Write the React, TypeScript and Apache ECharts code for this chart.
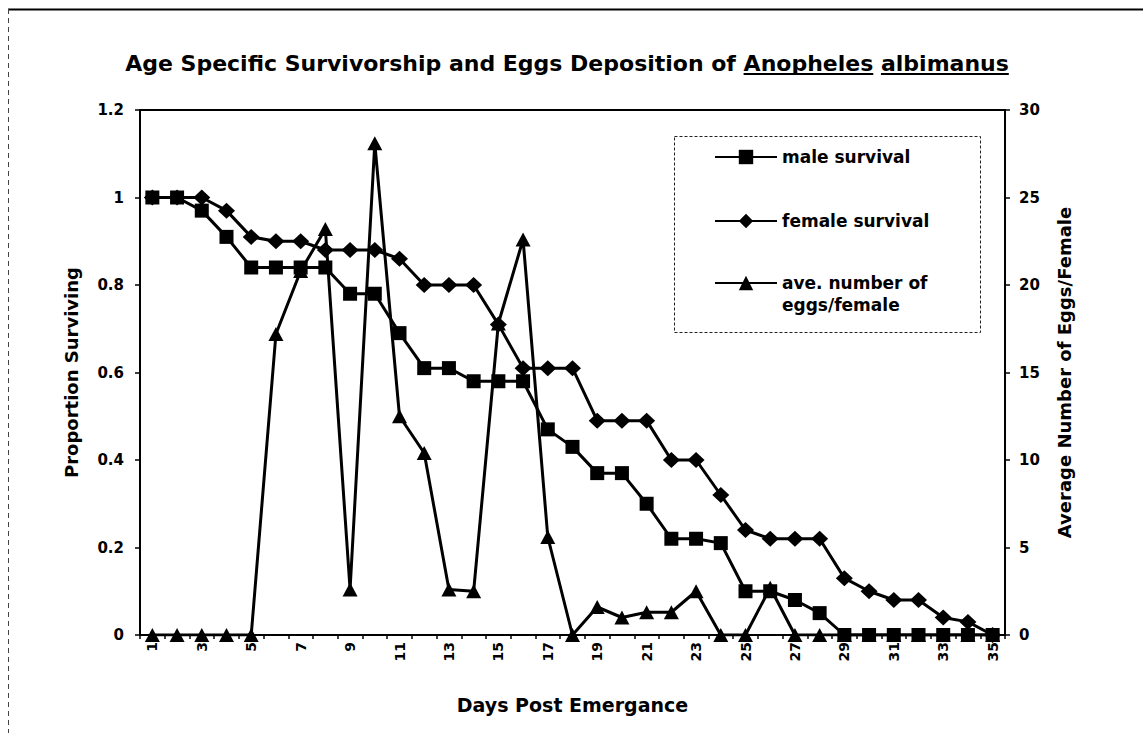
import React, { useEffect, useRef } from "react";
import * as echarts from "echarts";

const days = ["1","2","3","4","5","6","7","8","9","10","11","12","13","14","15","16","17","18","19","20","21","22","23","24","25","26","27","28","29","30","31","32","33","34","35"];
const maleSurvival = [1,1,0.97,0.91,0.84,0.84,0.84,0.84,0.78,0.78,0.69,0.61,0.61,0.58,0.58,0.58,0.47,0.43,0.37,0.37,0.30,0.22,0.22,0.21,0.10,0.10,0.08,0.05,0,0,0,0,0,0,0];
const femaleSurvival = [1,1,1,0.97,0.91,0.90,0.90,0.88,0.88,0.88,0.86,0.80,0.80,0.80,0.71,0.61,0.61,0.61,0.49,0.49,0.49,0.40,0.40,0.32,0.24,0.22,0.22,0.22,0.13,0.10,0.08,0.08,0.04,0.03,0];
const eggsPerFemale = [0,0,0,0,0,17.2,20.8,23.2,2.6,28.1,12.5,10.4,2.6,2.5,17.8,22.6,5.6,0,1.6,1.0,1.3,1.3,2.5,0,0,2.7,0,0,0,0,0,0,0,0,0];
const leftTicks = { min: 0, max: 1.2, interval: 0.2 };
const rightTicks = { min: 0, max: 30, interval: 5 };

const titlePrefix = "Age Specific Survivorship and Eggs Deposition of ";
const genus = "Anopheles";
const species = "albimanus";
const seriesNames = ["male survival", "female survival", "ave. number of eggs/female"];

const FONT = "'DejaVu Sans', 'Liberation Sans', Arial, sans-serif";

function measure(text: string, font: string): number {
  const c = document.createElement("canvas");
  const ctx = c.getContext("2d");
  if (!ctx) return text.length * 10;
  ctx.font = font;
  return ctx.measureText(text).width;
}

export default function App() {
  const ref = useRef<HTMLDivElement>(null);
  useEffect(() => {
    if (!ref.current) return;
    const chart = echarts.init(ref.current, undefined, { renderer: "svg" });

    const titleSize = 22;
    const titleFont = `bold ${titleSize}px ${FONT}`;
    const fullTitle = titlePrefix + genus + " " + species;
    const W = measure(fullTitle, titleFont);
    const cx = 567;
    const titleY = 63;
    const startX = cx - W / 2;
    const gx1 = startX + measure(titlePrefix, titleFont);
    const gx2 = gx1 + measure(genus, titleFont);
    const sx1 = startX + measure(titlePrefix + genus + " ", titleFont);
    const sx2 = sx1 + measure(species, titleFont);
    const uy = titleY + 11;

    const common = {
      type: "line",
      color: "#000",
      lineStyle: { color: "#000", width: 3 },
      itemStyle: { color: "#000" },
      showAllSymbol: true,
      animation: false,
    };

    chart.setOption({
      animation: false,
      backgroundColor: "#fff",
      grid: { left: 140, right: 138, top: 110, bottom: 98, show: true, borderColor: "#000", borderWidth: 2, backgroundColor: "transparent" },
      graphic: [
        { type: "line", shape: { x1: 8, y1: 9.5, x2: 1143, y2: 9.5 }, style: { stroke: "#000", lineWidth: 2 } },
        { type: "line", shape: { x1: 8.5, y1: 9, x2: 8.5, y2: 733 }, style: { stroke: "#444", lineWidth: 1, lineDash: [5, 4] } },
        {
          type: "text", x: cx, y: titleY,
          style: { text: fullTitle, font: titleFont, fill: "#000", textAlign: "center", textVerticalAlign: "middle", align: "center", verticalAlign: "middle" },
        },
        { type: "line", shape: { x1: gx1, y1: uy, x2: gx2, y2: uy }, style: { stroke: "#000", lineWidth: 2 } },
        { type: "line", shape: { x1: sx1, y1: uy, x2: sx2, y2: uy }, style: { stroke: "#000", lineWidth: 2 } },
        { type: "rect", shape: { x: 674.5, y: 136.5, width: 306, height: 196 }, style: { stroke: "#222", lineWidth: 1, lineDash: [3, 2], fill: "#fff" }, z: -1 },
      ],
      legend: [
        {
          data: [seriesNames[0], seriesNames[1]],
          orient: "vertical", left: 714, top: 147, padding: 0,
          itemGap: 44, itemWidth: 62, itemHeight: 18,
          textStyle: { fontFamily: FONT, fontWeight: "bold", fontSize: 17, color: "#000", lineHeight: 20 },
        },
        {
          data: [seriesNames[2]],
          orient: "vertical", left: 714, top: 250, padding: 0,
          itemWidth: 62, itemHeight: 18,
          formatter: () => " \nave. number of\neggs/female",
          textStyle: { fontFamily: FONT, fontWeight: "bold", fontSize: 17, color: "#000", lineHeight: 22 },
        },
      ],
      xAxis: {
        type: "category",
        data: days,
        boundaryGap: true,
        name: "Days Post Emergance",
        nameLocation: "middle",
        nameGap: 60,
        nameTextStyle: { fontFamily: FONT, fontWeight: "bold", fontSize: 19, color: "#000" },
        axisLine: { lineStyle: { color: "#000", width: 2 } },
        axisTick: { show: true, interval: 0, length: 4, lineStyle: { color: "#000", width: 1.5 } },
        axisLabel: { interval: 1, rotate: 90, margin: 7, fontFamily: FONT, fontWeight: "bold", fontSize: 14, color: "#000" },
        splitLine: { show: false },
      },
      yAxis: [
        {
          type: "value", ...leftTicks,
          name: "Proportion Surviving",
          nameLocation: "middle", nameRotate: 90, nameGap: 60,
          nameTextStyle: { fontFamily: FONT, fontWeight: "bold", fontSize: 18, color: "#000" },
          axisLine: { show: true, lineStyle: { color: "#000", width: 2 } },
          axisTick: { show: true, length: 5, lineStyle: { color: "#000", width: 1.5 } },
          axisLabel: { margin: 16, fontFamily: FONT, fontWeight: "bold", fontSize: 15, color: "#000" },
          splitLine: { show: false },
        },
        {
          type: "value", ...rightTicks,
          name: "Average Number of Eggs/Female",
          nameLocation: "middle", nameRotate: 90, nameGap: 50,
          nameTextStyle: { fontFamily: FONT, fontWeight: "bold", fontSize: 18, color: "#000" },
          axisLine: { show: true, lineStyle: { color: "#000", width: 2 } },
          axisTick: { show: true, length: 5, lineStyle: { color: "#000", width: 1.5 } },
          axisLabel: { margin: 14, fontFamily: FONT, fontWeight: "bold", fontSize: 15, color: "#000" },
          splitLine: { show: false },
        },
      ],
      series: [
        { ...common, name: seriesNames[2], data: eggsPerFemale, yAxisIndex: 1, symbol: "triangle", symbolSize: [15, 14], z: 2 },
        { ...common, name: seriesNames[1], data: femaleSurvival, yAxisIndex: 0, symbol: "diamond", symbolSize: [17, 16], z: 3 },
        { ...common, name: seriesNames[0], data: maleSurvival, yAxisIndex: 0, symbol: "rect", symbolSize: 14, z: 4 },
      ],
    });
    return () => chart.dispose();
  }, []);
  return <div ref={ref} style={{ position: "fixed", left: 0, top: 0, width: 1143, height: 733 }} />;
}
